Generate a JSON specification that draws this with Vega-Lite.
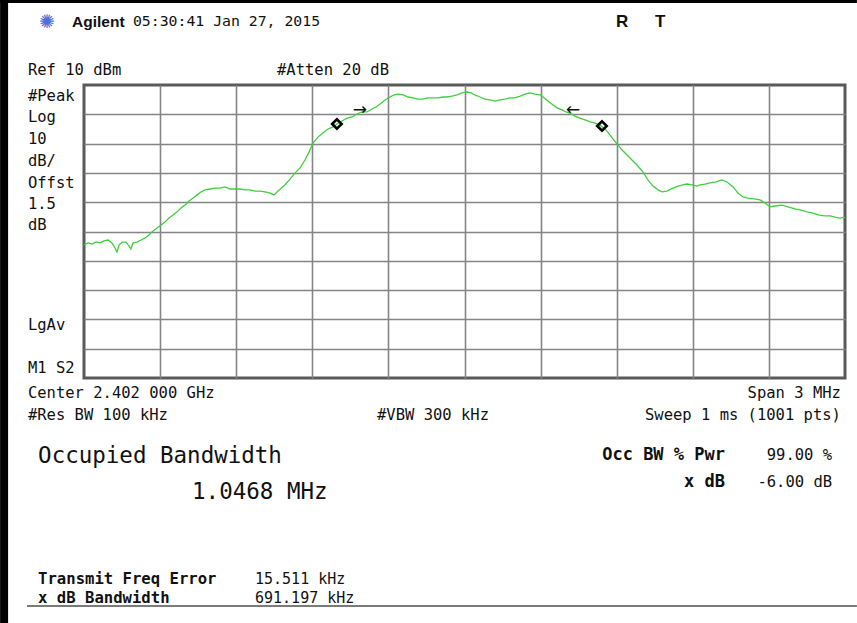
{
  "$schema": "https://vega.github.io/schema/vega-lite/v6.json",
  "width": 761,
  "height": 293,
  "autosize": {"type": "none"},
  "padding": {"left": 84, "top": 85, "right": 12, "bottom": 245},
  "background": "white",
  "config": {
    "view": {"stroke": "#5a5a5a", "strokeWidth": 3},
    "axis": {"labels": false, "ticks": false, "domain": false, "title": null, "grid": true, "gridColor": "#858585", "gridWidth": 1.6, "gridOpacity": 1}
  },
  "datasets": {
    "trace": [
      {"f":2400.500,"p":-44.6},{"f":2400.516,"p":-43.9},{"f":2400.532,"p":-44.3},{"f":2400.547,"p":-43.6},{"f":2400.563,"p":-43.9},{"f":2400.579,"p":-43.2},{"f":2400.595,"p":-42.9},{"f":2400.610,"p":-43.9},{"f":2400.622,"p":-45.6},{"f":2400.630,"p":-47.0},{"f":2400.638,"p":-44.6},{"f":2400.650,"p":-43.6},{"f":2400.666,"p":-43.6},{"f":2400.677,"p":-44.9},{"f":2400.685,"p":-46.0},{"f":2400.693,"p":-43.9},{"f":2400.709,"p":-43.6},{"f":2400.725,"p":-42.9},{"f":2400.741,"p":-42.2},{"f":2400.756,"p":-41.2},{"f":2400.772,"p":-39.8},{"f":2400.788,"p":-38.8},{"f":2400.804,"p":-37.8},{"f":2400.819,"p":-36.8},{"f":2400.835,"p":-35.4},{"f":2400.851,"p":-34.4},{"f":2400.867,"p":-33.3},{"f":2400.882,"p":-32.0},{"f":2400.898,"p":-31.0},{"f":2400.914,"p":-29.6},{"f":2400.930,"p":-28.6},{"f":2400.946,"p":-27.5},{"f":2400.961,"p":-26.5},{"f":2400.977,"p":-25.8},{"f":2400.997,"p":-25.5},{"f":2401.016,"p":-25.2},{"f":2401.036,"p":-25.2},{"f":2401.056,"p":-24.8},{"f":2401.076,"p":-25.5},{"f":2401.095,"p":-25.5},{"f":2401.115,"p":-25.5},{"f":2401.135,"p":-25.8},{"f":2401.154,"p":-25.8},{"f":2401.174,"p":-26.2},{"f":2401.194,"p":-26.2},{"f":2401.214,"p":-26.5},{"f":2401.233,"p":-26.9},{"f":2401.249,"p":-27.5},{"f":2401.261,"p":-26.5},{"f":2401.277,"p":-25.2},{"f":2401.292,"p":-24.1},{"f":2401.312,"p":-22.1},{"f":2401.332,"p":-20.0},{"f":2401.352,"p":-18.3},{"f":2401.371,"p":-15.6},{"f":2401.387,"p":-12.9},{"f":2401.403,"p":-9.8},{"f":2401.423,"p":-7.7},{"f":2401.442,"p":-6.4},{"f":2401.462,"p":-5.0},{"f":2401.482,"p":-4.3},{"f":2401.497,"p":-3.3},{"f":2401.517,"p":-2.3},{"f":2401.537,"p":-1.3},{"f":2401.557,"p":-0.9},{"f":2401.576,"p":0.1},{"f":2401.596,"p":0.8},{"f":2401.616,"p":0.8},{"f":2401.635,"p":1.8},{"f":2401.651,"p":2.5},{"f":2401.667,"p":3.5},{"f":2401.687,"p":4.9},{"f":2401.706,"p":5.9},{"f":2401.722,"p":6.6},{"f":2401.738,"p":6.9},{"f":2401.758,"p":6.6},{"f":2401.777,"p":5.9},{"f":2401.797,"p":5.6},{"f":2401.817,"p":5.2},{"f":2401.836,"p":5.2},{"f":2401.856,"p":5.6},{"f":2401.876,"p":5.6},{"f":2401.896,"p":5.6},{"f":2401.915,"p":5.9},{"f":2401.931,"p":5.9},{"f":2401.951,"p":6.2},{"f":2401.970,"p":6.6},{"f":2401.990,"p":7.3},{"f":2402.010,"p":7.6},{"f":2402.026,"p":7.3},{"f":2402.041,"p":6.6},{"f":2402.061,"p":5.9},{"f":2402.081,"p":5.2},{"f":2402.101,"p":4.9},{"f":2402.120,"p":4.5},{"f":2402.140,"p":4.9},{"f":2402.160,"p":5.2},{"f":2402.179,"p":5.6},{"f":2402.199,"p":5.6},{"f":2402.219,"p":6.2},{"f":2402.239,"p":6.9},{"f":2402.258,"p":7.3},{"f":2402.278,"p":6.9},{"f":2402.298,"p":6.6},{"f":2402.310,"p":5.9},{"f":2402.329,"p":4.5},{"f":2402.349,"p":3.2},{"f":2402.365,"p":2.2},{"f":2402.384,"p":1.5},{"f":2402.400,"p":0.8},{"f":2402.416,"p":0.4},{"f":2402.436,"p":-0.6},{"f":2402.455,"p":-1.3},{"f":2402.475,"p":-1.9},{"f":2402.495,"p":-2.6},{"f":2402.515,"p":-3.0},{"f":2402.534,"p":-3.7},{"f":2402.554,"p":-5.0},{"f":2402.574,"p":-7.1},{"f":2402.589,"p":-8.8},{"f":2402.601,"p":-10.1},{"f":2402.621,"p":-12.2},{"f":2402.641,"p":-13.9},{"f":2402.660,"p":-15.6},{"f":2402.680,"p":-17.3},{"f":2402.704,"p":-19.7},{"f":2402.723,"p":-22.4},{"f":2402.743,"p":-24.5},{"f":2402.763,"p":-25.8},{"f":2402.779,"p":-26.5},{"f":2402.798,"p":-26.2},{"f":2402.822,"p":-25.2},{"f":2402.842,"p":-24.5},{"f":2402.861,"p":-24.1},{"f":2402.877,"p":-23.8},{"f":2402.897,"p":-24.1},{"f":2402.917,"p":-24.5},{"f":2402.928,"p":-24.1},{"f":2402.948,"p":-23.8},{"f":2402.968,"p":-23.4},{"f":2402.992,"p":-23.1},{"f":2403.015,"p":-22.4},{"f":2403.035,"p":-23.1},{"f":2403.059,"p":-24.8},{"f":2403.078,"p":-26.9},{"f":2403.098,"p":-28.2},{"f":2403.118,"p":-28.6},{"f":2403.141,"p":-28.9},{"f":2403.165,"p":-29.2},{"f":2403.185,"p":-30.3},{"f":2403.204,"p":-31.6},{"f":2403.224,"p":-31.3},{"f":2403.252,"p":-31.0},{"f":2403.275,"p":-31.6},{"f":2403.303,"p":-32.3},{"f":2403.327,"p":-32.7},{"f":2403.350,"p":-33.3},{"f":2403.374,"p":-33.7},{"f":2403.398,"p":-34.4},{"f":2403.421,"p":-34.7},{"f":2403.441,"p":-34.7},{"f":2403.461,"p":-35.1},{"f":2403.480,"p":-35.4},{"f":2403.500,"p":-35.1}
    ]
  },
  "encoding": {
    "x": {"field": "f", "type": "quantitative", "scale": {"domain": [2400.5, 2403.5], "nice": false, "zero": false},
      "axis": {"values": [2400.8, 2401.1, 2401.4, 2401.7, 2402.0, 2402.3, 2402.6, 2402.9, 2403.2]}},
    "y": {"field": "p", "type": "quantitative", "scale": {"domain": [-90, 10], "nice": false, "zero": false},
      "axis": {"values": [0, -10, -20, -30, -40, -50, -60, -70, -80]}}
  },
  "layer": [
    {
      "data": {"name": "trace"},
      "mark": {"type": "line", "color": "#3fcf3f", "strokeWidth": 1.3, "interpolate": "linear"}
    },
    {
      "data": {"values": [{"f": 2401.497, "p": -3.3}, {"f": 2402.542, "p": -4.0}]},
      "mark": {"type": "point", "shape": "diamond", "filled": false, "stroke": "#000", "strokeWidth": 2.6, "size": 90, "opacity": 1}
    },
    {
      "data": {"values": [{"f": 2401.588, "p": 1.5, "t": "→"}, {"f": 2402.428, "p": 1.5, "t": "←"}]},
      "mark": {"type": "text", "font": "DejaVu Sans", "fontSize": 17, "color": "#111", "align": "center", "baseline": "middle"},
      "encoding": {"text": {"field": "t"}}
    },
    {
      "data": {"values": [
        {"f": 2400.279, "p": 15.1, "t": "Ref 10 dBm"},
        {"f": 2401.261, "p": 15.1, "t": "#Atten 20 dB"},
        {"f": 2400.279, "p": 6.2, "t": "#Peak"},
        {"f": 2400.279, "p": -0.9, "t": "Log"},
        {"f": 2400.279, "p": -8.4, "t": "10"},
        {"f": 2400.279, "p": -15.9, "t": "dB/"},
        {"f": 2400.279, "p": -23.4, "t": "Offst"},
        {"f": 2400.279, "p": -30.6, "t": "1.5"},
        {"f": 2400.279, "p": -37.8, "t": "dB"},
        {"f": 2400.279, "p": -71.9, "t": "LgAv"},
        {"f": 2400.279, "p": -86.6, "t": "M1  S2"},
        {"f": 2400.279, "p": -95.1, "t": "Center 2.402 000 GHz"},
        {"f": 2400.279, "p": -102.6, "t": "#Res BW 100 kHz"},
        {"f": 2401.655, "p": -102.6, "t": "#VBW 300 kHz"}
      ]},
      "mark": {"type": "text", "font": "DejaVu Sans Mono", "fontSize": 15.5, "color": "#111", "align": "left", "baseline": "middle"},
      "encoding": {"text": {"field": "t"}}
    },
    {
      "data": {"values": [
        {"f": 2401.174, "p": -158.6, "t": "15.511 kHz"},
        {"f": 2401.174, "p": -165.1, "t": "691.197 kHz"}
      ]},
      "mark": {"type": "text", "font": "DejaVu Sans Mono", "fontSize": 15, "color": "#111", "align": "left", "baseline": "middle"},
      "encoding": {"text": {"field": "t"}}
    },
    {
      "data": {"values": [
        {"f": 2400.693, "p": 31.5, "t": "05:30:41  Jan 27, 2015"}
      ]},
      "mark": {"type": "text", "font": "DejaVu Sans Mono", "fontSize": 14.8, "color": "#111", "align": "left", "baseline": "middle"},
      "encoding": {"text": {"field": "t"}}
    },
    {
      "data": {"values": [
        {"f": 2403.484, "p": -95.1, "t": "Span 3 MHz"},
        {"f": 2403.484, "p": -102.6, "t": "Sweep 1 ms (1001 pts)"},
        {"f": 2403.449, "p": -116.3, "t": "99.00 %"},
        {"f": 2403.449, "p": -125.5, "t": "-6.00 dB"}
      ]},
      "mark": {"type": "text", "font": "DejaVu Sans Mono", "fontSize": 15.5, "color": "#111", "align": "right", "baseline": "middle"},
      "encoding": {"text": {"field": "t"}}
    },
    {
      "data": {"values": [
        {"f": 2400.319, "p": -158.6, "t": "Transmit Freq Error"},
        {"f": 2400.319, "p": -165.1, "t": "x dB Bandwidth"}
      ]},
      "mark": {"type": "text", "font": "DejaVu Sans Mono", "fontWeight": "bold", "fontSize": 15.6, "color": "#111", "align": "left", "baseline": "middle"},
      "encoding": {"text": {"field": "t"}}
    },
    {
      "data": {"values": [
        {"f": 2403.027, "p": -116.3, "t": "Occ BW % Pwr"},
        {"f": 2403.027, "p": -125.5, "t": "x dB"}
      ]},
      "mark": {"type": "text", "font": "DejaVu Sans Mono", "fontWeight": "bold", "fontSize": 17, "color": "#111", "align": "right", "baseline": "middle"},
      "encoding": {"text": {"field": "t"}}
    },
    {
      "data": {"values": [
        {"f": 2400.319, "p": -116.6, "t": "Occupied Bandwidth"},
        {"f": 2400.926, "p": -128.9, "t": "1.0468 MHz"}
      ]},
      "mark": {"type": "text", "font": "DejaVu Sans Mono", "fontSize": 22.5, "color": "#111", "align": "left", "baseline": "middle"},
      "encoding": {"text": {"field": "t"}}
    },
    {
      "data": {"values": [
        {"f": 2400.453, "p": 31.5, "t": "Agilent"}
      ]},
      "mark": {"type": "text", "font": "Liberation Sans", "fontWeight": "bold", "fontSize": 15.5, "color": "#111", "align": "left", "baseline": "middle"},
      "encoding": {"text": {"field": "t"}}
    },
    {
      "data": {"values": [
        {"f": 2402.621, "p": 31.5, "t": "R"},
        {"f": 2402.771, "p": 31.5, "t": "T"}
      ]},
      "mark": {"type": "text", "font": "Liberation Sans", "fontWeight": "bold", "fontSize": 17, "color": "#111", "align": "center", "baseline": "middle"},
      "encoding": {"text": {"field": "t"}}
    },
    {
      "data": {"values": [
        {"f": 2400.354, "p": 31.5, "t": "✺"}
      ]},
      "mark": {"type": "text", "font": "DejaVu Sans", "fontSize": 19, "color": "#4d6fd6", "align": "center", "baseline": "middle"},
      "encoding": {"text": {"field": "t"}}
    },
    {
      "data": {"values": [{"f": 2400.185, "p": 39.0, "p2": -173.6}]},
      "mark": {"type": "rule", "color": "#000", "strokeWidth": 8},
      "encoding": {"y2": {"field": "p2"}}
    },
    {
      "data": {"values": [{"f": 2400.169, "f2": 2403.547, "p": 38.5}]},
      "mark": {"type": "rule", "color": "#000", "strokeWidth": 3},
      "encoding": {"x2": {"field": "f2"}}
    },
    {
      "data": {"values": [{"f": 2400.275, "f2": 2403.547, "p": -167.8}]},
      "mark": {"type": "rule", "color": "#7a7a7a", "strokeWidth": 2},
      "encoding": {"x2": {"field": "f2"}}
    }
  ]
}
